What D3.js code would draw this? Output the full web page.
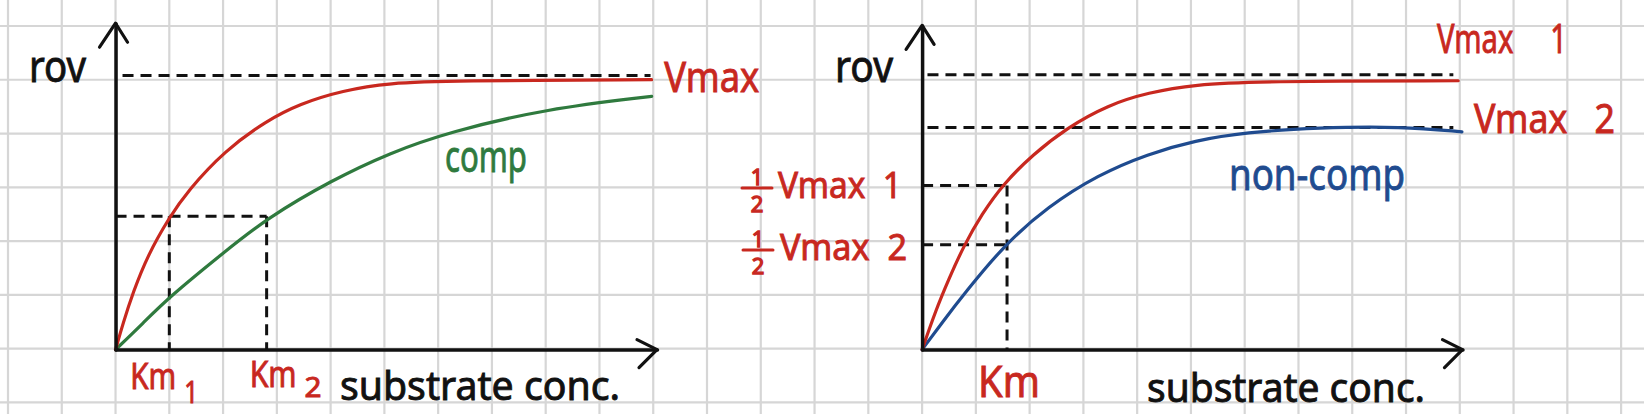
<!DOCTYPE html>
<html>
<head>
<meta charset="utf-8">
<script src="https://cdn.jsdelivr.net/npm/d3@7"></script>
<style>
  html, body { margin: 0; padding: 0; background: #fff; }
  svg { display: block; }
  text { font-family: "Noto Sans", "DejaVu Sans", sans-serif; }
</style>
</head>
<body>
<div id="chart"></div>
<script>
// values are read in grid squares (substrate conc. on x, rate of reaction on y)
const leftNormalX = [0, 0.14, 0.32, 0.60, 1.00, 1.34, 2.03, 2.81, 3.42, 4.22, 5.10, 6.21, 9.97];
const leftNormalY = [0, 0.49, 1.05, 1.76, 2.46, 2.95, 3.70, 4.26, 4.57, 4.82, 4.96, 5.00, 5.02];
const leftCompX = [0, 0.51, 1.00, 2.03, 2.81, 4.02, 5.10, 6.21, 8.02, 9.97];
const leftCompY = [0, 0.49, 0.98, 1.82, 2.44, 3.15, 3.66, 4.05, 4.48, 4.71];
const leftVmax = 5.1;
const leftHalfVmax = 2.48;
const leftKm = [1.0, 2.81];

const rightNormalX = [0, 0.25, 0.50, 0.77, 1.11, 1.51, 2.05, 2.70, 3.46, 4.20, 5.08, 6.23, 9.97];
const rightNormalY = [0, 0.72, 1.32, 1.92, 2.52, 3.08, 3.62, 4.13, 4.55, 4.78, 4.93, 4.99, 5.00];
const rightNonCompX = [0, 0.37, 0.80, 1.54, 2.34, 3.27, 4.20, 5.08, 6.01, 7.36, 8.93, 10.04];
const rightNonCompY = [0, 0.50, 1.06, 1.96, 2.66, 3.25, 3.64, 3.89, 4.04, 4.13, 4.15, 4.05];
const rightVmax = [5.11, 4.13];
const rightHalfVmax = [3.05, 1.95];
const rightKm = 1.58;

const W = 1644, H = 414;
const g = 53.77;               // grid square size
const RED = "#c8281f", GREEN = "#2f7a3e", BLUE = "#1f4b8f", INK = "#111";

const svg = d3.select("#chart").append("svg")
    .attr("width", W).attr("height", H)
    .style("background", "#fff");

// squared paper
const gridX = d3.scaleLinear().domain([0, 30]).range([8, 8 + 30 * g]);
const gridY = d3.scaleLinear().domain([0, 7]).range([26, 26 + 7 * g]);
const grid = svg.append("g").attr("stroke", "#d6d6d6").attr("stroke-width", 2.2);
grid.selectAll("line.v").data(d3.range(0, 31)).join("line")
    .attr("class", "v")
    .attr("x1", d => gridX(d)).attr("x2", d => gridX(d))
    .attr("y1", 0).attr("y2", H);
grid.selectAll("line.h").data(d3.range(0, 8)).join("line")
    .attr("class", "h")
    .attr("y1", d => gridY(d)).attr("y2", d => gridY(d))
    .attr("x1", 0).attr("x2", W);

function makePanel(col) {
    const x0 = gridX(col), y0 = gridY(6) + 1;
    const x = d3.scaleLinear().domain([0, 10]).range([x0, x0 + 10 * g]);
    const y = d3.scaleLinear().domain([0, 6]).range([y0, y0 - 6 * g]);
    return { x, y, g: svg.append("g") };
}

function drawAxes(p, xEnd, yEnd) {
    const { x, y } = p;
    const xs = x.copy().domain([0, xEnd]).range([x(0), x(xEnd)]);
    const ys = y.copy().domain([0, yEnd]).range([y(0), y(yEnd)]);
    const ax = p.g.append("g").attr("transform", `translate(0,${y(0)})`)
        .call(d3.axisBottom(xs).tickValues([]).tickSizeOuter(0));
    const ay = p.g.append("g").attr("transform", `translate(${x(0)},0)`)
        .call(d3.axisLeft(ys).tickValues([]).tickSizeOuter(0));
    [ax, ay].forEach(a => a.select(".domain")
        .attr("stroke", INK).attr("stroke-width", 3.5).attr("stroke-linecap", "round"));

    const tx = x(xEnd), ty = y(0);
    p.g.append("path")
        .attr("d", `M${tx - 20},${ty - 10} L${tx},${ty} L${tx - 18},${ty + 18}`)
        .attr("fill", "none").attr("stroke", INK).attr("stroke-width", 3.2)
        .attr("stroke-linecap", "round").attr("stroke-linejoin", "round");
    const vx = x(0), vy = y(yEnd);
    p.g.append("path")
        .attr("d", `M${vx - 16},${vy + 24} L${vx},${vy} L${vx + 12},${vy + 19}`)
        .attr("fill", "none").attr("stroke", INK).attr("stroke-width", 3.2)
        .attr("stroke-linecap", "round").attr("stroke-linejoin", "round");
}

function dashed(p, x1, y1, x2, y2) {
    p.g.append("line")
        .attr("x1", p.x(x1)).attr("y1", p.y(y1))
        .attr("x2", p.x(x2)).attr("y2", p.y(y2))
        .attr("stroke", INK).attr("stroke-width", 3)
        .attr("stroke-dasharray", "11,7");
}

function curve(p, xs, ys, color) {
    const line = d3.line()
        .x(d => p.x(d[0])).y(d => p.y(d[1]))
        .curve(d3.curveBasis);
    p.g.append("path")
        .datum(d3.zip(xs, ys))
        .attr("d", line)
        .attr("fill", "none").attr("stroke", color)
        .attr("stroke-width", 3.2).attr("stroke-linecap", "round");
}

function label(x, y, str, opts) {
    const color = opts.color || INK;
    const t = svg.append("text")
        .attr("x", x).attr("y", y)
        .attr("fill", color)
        .attr("stroke", color).attr("stroke-width", opts.sw || 0.9)
        .style("font-size", opts.size + "px")
        .text(str);
    if (opts.anchor) t.attr("text-anchor", opts.anchor);
    if (opts.len) t.attr("textLength", opts.len).attr("lengthAdjust", "spacingAndGlyphs");
    return t;
}

// stacked one-half, numerator and denominator around a bar
function half(cx, barY) {
    label(cx, barY - 3, "1", { color: RED, size: 22, anchor: "middle", sw: 1.3 });
    label(cx, barY + 24, "2", { color: RED, size: 22, anchor: "middle", sw: 1.3 });
    svg.append("line")
        .attr("x1", cx - 15).attr("x2", cx + 15)
        .attr("y1", barY).attr("y2", barY)
        .attr("stroke", RED).attr("stroke-width", 3).attr("stroke-linecap", "round");
}

// ---- left: competitive inhibition
const L = makePanel(2);
dashed(L, 0.13, leftVmax, 9.95, leftVmax);
dashed(L, 0, leftHalfVmax, leftKm[1], leftHalfVmax);
leftKm.forEach(k => dashed(L, k, leftHalfVmax, k, 0));
curve(L, leftCompX, leftCompY, GREEN);
curve(L, leftNormalX, leftNormalY, RED);
drawAxes(L, 10.07, 6.07);

label(29, 82, "rov", { size: 44, len: 57 });
label(L.x(10) + 11, L.y(leftVmax) + 17, "Vmax", { color: RED, size: 42, len: 95 });
label(445, 172, "comp", { color: GREEN, size: 44, len: 82 });
label(L.x(leftKm[0]) - 39, 389, "Km", { color: RED, size: 36, len: 46 });
label(L.x(leftKm[0]) + 15, 403, "1", { color: RED, size: 30, len: 14 });
label(L.x(leftKm[1]) - 17, 387, "Km", { color: RED, size: 36, len: 47 });
label(L.x(leftKm[1]) + 38, 397, "2", { color: RED, size: 27, len: 17 });
label(340, 400, "substrate conc.", { size: 40, len: 280 });

// ---- right: non-competitive inhibition
const R = makePanel(17);
rightVmax.forEach(v => dashed(R, 0.1, v, 9.88, v));
rightHalfVmax.forEach(v => dashed(R, 0, v, rightKm, v));
dashed(R, rightKm, rightHalfVmax[0], rightKm, 0);
curve(R, rightNonCompX, rightNonCompY, BLUE);
curve(R, rightNormalX, rightNormalY, RED);
drawAxes(R, 10.05, 6.03);

label(835, 82, "rov", { size: 44, len: 58 });
label(1437, 53, "Vmax\u2003\u00a01", { color: RED, size: 40, len: 130 });
label(1474, 133, "Vmax\u2002\u00a02", { color: RED, size: 40, len: 141 });
label(1229, 190, "non-comp", { color: BLUE, size: 44, len: 176 });

half(757, 188);
label(778, 198, "Vmax\u00a0\u00a01", { color: RED, size: 36, len: 124 });
half(758, 250);
label(780, 260, "Vmax\u00a0\u00a02", { color: RED, size: 36, len: 127 });

label(R.x(rightKm) - 29, 397, "Km", { color: RED, size: 44, len: 62 });
label(1147, 402, "substrate conc.", { size: 40, len: 278 });
</script>
</body>
</html>
